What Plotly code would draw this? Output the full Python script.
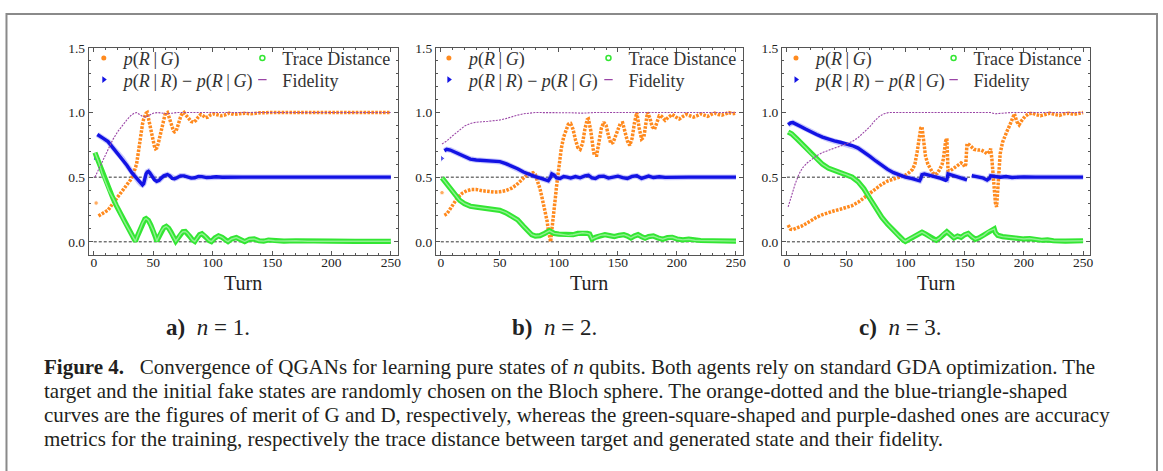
import plotly.graph_objects as go

# ---------------- data ----------------
TURN_TICKS = [0, 50, 100, 150, 200, 250]
VALUE_TICKS = [0.0, 0.5, 1.0, 1.5]
REF_LEVELS = [0.0, 0.5]

# panel a) n = 1
A_RG_T = [2, 3, 4, 5, 8, 12, 16, 20, 24, 28, 31, 33, 35, 36, 37, 38, 39, 40, 41, 42, 43, 44, 45, 46, 47, 48, 49, 50,
          51, 52, 53, 54, 55, 56, 57, 58, 59, 60, 61, 62, 63, 64, 65, 66, 67, 68, 69, 70, 71, 72, 73, 74, 75, 76, 78,
          80, 82, 84, 86, 88, 90, 92, 94, 96, 98, 101, 104, 107, 110, 114, 118, 122, 127, 132, 140, 150, 250]
A_RG_V = [0.30, None, 0.20, 0.205, 0.22, 0.245, 0.295, 0.345, 0.40, 0.44, 0.48, 0.515, 0.56, 0.60, 0.66, 0.73, 0.80,
          0.86, 0.91, 0.95, 0.98, 0.995, 1.0, 0.96, 0.91, 0.86, 0.81, 0.77, 0.74, 0.72, 0.725, 0.75, 0.79, 0.84, 0.88,
          0.925, 0.96, 0.985, 0.995, 1.0, 0.975, 0.94, 0.91, 0.88, 0.86, 0.85, 0.855, 0.875, 0.91, 0.94, 0.965, 0.985,
          0.995, 1.0, 0.975, 0.95, 0.93, 0.925, 0.94, 0.965, 0.985, 0.975, 0.96, 0.965, 0.98, 0.99, 0.985, 0.975, 0.98,
          0.995, 0.985, 0.99, 0.995, 0.99, 0.998, 1.0, 1.0]
A_RR_T = [1, 2, 3, 5, 8, 12, 16, 20, 24, 28, 32, 35, 38, 40, 41, 42, 43, 44, 45, 46, 47, 49, 51, 53, 55, 57, 59, 62,
          64, 66, 68, 70, 73, 76, 79, 82, 85, 88, 91, 95, 99, 103, 108, 115, 125, 250]
A_RR_V = [0.65, None, 0.83, 0.82, 0.80, 0.775, 0.73, 0.69, 0.645, 0.59, 0.535, 0.50, 0.465, 0.445, 0.44, 0.45, 0.49,
          0.525, 0.54, 0.545, 0.535, 0.505, 0.48, 0.468, 0.475, 0.495, 0.51, 0.52, 0.51, 0.49, 0.488, 0.495, 0.51,
          0.51, 0.50, 0.493, 0.495, 0.505, 0.504, 0.497, 0.499, 0.503, 0.499, 0.502, 0.50, 0.50]
A_TD_T = [1, 4, 7, 10, 13, 16, 19, 22, 25, 28, 31, 33, 35, 37, 39, 41, 43, 44, 46, 48, 50, 52, 53, 55, 57, 59, 61, 63,
          65, 67, 69, 71, 73, 75, 77, 79, 81, 83, 85, 87, 89, 91, 93, 95, 97, 99, 102, 105, 108, 111, 113, 116, 120,
          124, 127, 131, 135, 139, 143, 147, 152, 160, 170, 180, 200, 220, 250]
A_TD_V = [0.69, 0.62, 0.53, 0.46, 0.39, 0.34, 0.28, 0.23, 0.17, 0.12, 0.07, 0.035, 0.005, 0.05, 0.10, 0.145, 0.175,
          0.18, 0.165, 0.13, 0.09, 0.035, 0.005, 0.045, 0.085, 0.11, 0.12, 0.105, 0.075, 0.04, 0.005, 0.03, 0.06,
          0.078, 0.08, 0.065, 0.04, 0.015, 0.003, 0.03, 0.055, 0.062, 0.05, 0.03, 0.01, 0.002, 0.03, 0.046, 0.035,
          0.012, 0.002, 0.022, 0.033, 0.015, 0.002, 0.02, 0.022, 0.008, 0.005, 0.014, 0.008, 0.006, 0.008, 0.004,
          0.005, 0.003, 0.004]
A_FI_T = [1, 4, 8, 12, 16, 20, 24, 28, 31, 34, 36, 38, 41, 44, 47, 50, 54, 58, 62, 66, 70, 250]
A_FI_V = [0.50, 0.56, 0.64, 0.72, 0.79, 0.85, 0.90, 0.945, 0.975, 0.995, 1.0, 0.99, 0.97, 0.965, 0.98, 0.995, 1.0,
          0.993, 0.99, 0.995, 1.0, 1.0]

# panel b) n = 2
B_RG_T = [1, 2, 3, 5, 8, 11, 14, 18, 22, 26, 30, 35, 40, 45, 50, 55, 60, 64, 68, 72, 75, 78, 80, 82, 84, 86, 88, 90,
          91, 92, 93, 94, 95, 96, 97, 98, 100, 102, 104, 106, 108, 110, 112, 114, 116, 118, 120, 122, 124, 125, 127,
          129, 130, 132, 134, 136, 138, 140, 142, 144, 146, 148, 150, 152, 154, 156, 158, 160, 162, 164, 166, 168,
          170, 172, 174, 175, 177, 179, 181, 183, 185, 187, 190, 193, 196, 199, 202, 205, 208, 211, 214, 217, 220,
          223, 226, 229, 232, 235, 238, 241, 244, 247, 250]
B_RG_V = [0.38, None, 0.205, 0.215, 0.255, 0.30, 0.34, 0.375, 0.395, 0.405, 0.405, 0.395, 0.388, 0.385, 0.387,
          0.395, 0.415, 0.44, 0.475, 0.51, 0.525, 0.535, 0.52, 0.47, 0.41, 0.33, 0.25, 0.16, 0.094, 0.04, 0.0, 0.09,
          0.16, 0.25, 0.34, 0.43, 0.58, 0.72, 0.81, 0.87, 0.91, 0.915, 0.87, 0.79, 0.73, 0.715, 0.76, 0.87, 0.945,
          0.95, 0.86, 0.72, 0.67, 0.67, 0.76, 0.88, 0.925, 0.90, 0.82, 0.76, 0.77, 0.82, 0.88, 0.915, 0.92, 0.86,
          0.78, 0.745, 0.80, 0.92, 1.0, 0.88, 0.795, 0.81, 0.93, 1.0, 0.96, 0.89, 0.87, 0.93, 0.975, 0.97, 0.94,
          0.965, 0.985, 0.965, 0.95, 0.97, 0.985, 0.975, 0.965, 0.975, 0.99, 0.98, 0.97, 0.985, 0.995, 0.985, 0.98,
          0.99, 1.0, 0.99, 0.995]
B_RR_T = [1, 2, 3, 5, 8, 12, 16, 20, 25, 30, 35, 40, 45, 50, 55, 60, 65, 70, 75, 80, 85, 88, 91, 93, 94, 96, 98,
          101, 104, 107, 110, 114, 118, 122, 125, 128, 131, 134, 138, 142, 146, 150, 154, 158, 162, 166, 170, 173,
          176, 180, 185, 190, 200, 210, 250]
B_RR_V = [0.645, None, 0.705, 0.715, 0.71, 0.695, 0.675, 0.66, 0.64, 0.633, 0.63, 0.63, 0.627, 0.62, 0.605, 0.587,
          0.565, 0.54, 0.52, 0.505, 0.49, 0.48, 0.472, 0.50, 0.525, 0.515, 0.495, 0.49, 0.505, 0.50, 0.493, 0.505,
          0.495, 0.51, 0.515, 0.495, 0.49, 0.505, 0.508, 0.493, 0.50, 0.508, 0.497, 0.49, 0.506, 0.51, 0.49, 0.497,
          0.508, 0.497, 0.503, 0.498, 0.502, 0.50, 0.50]
B_TD_T = [1, 4, 8, 12, 16, 20, 25, 30, 35, 40, 45, 50, 55, 60, 65, 70, 74, 77, 80, 84, 88, 92, 94, 96, 100, 104,
          108, 112, 116, 120, 124, 126, 128, 131, 135, 139, 143, 147, 151, 155, 158, 161, 164, 167, 170, 173, 176,
          180, 184, 188, 192, 196, 200, 205, 210, 215, 220, 230, 240, 250]
B_TD_V = [0.495, 0.46, 0.41, 0.36, 0.32, 0.295, 0.275, 0.268, 0.262, 0.258, 0.252, 0.243, 0.225, 0.20, 0.17, 0.12,
          0.08, 0.055, 0.045, 0.048, 0.065, 0.085, 0.075, 0.065, 0.06, 0.055, 0.05, 0.055, 0.065, 0.07, 0.065, 0.06,
          0.022, 0.035, 0.05, 0.055, 0.048, 0.04, 0.05, 0.055, 0.045, 0.03, 0.045, 0.055, 0.04, 0.028, 0.04, 0.045,
          0.03, 0.02, 0.032, 0.035, 0.022, 0.015, 0.02, 0.012, 0.01, 0.008, 0.01, 0.005]
B_FI_T = [1, 5, 10, 15, 20, 25, 30, 40, 50, 55, 60, 65, 70, 75, 80, 110, 120, 130, 250]
B_FI_V = [0.757, 0.78, 0.82, 0.86, 0.895, 0.915, 0.925, 0.932, 0.942, 0.953, 0.968, 0.98, 0.99, 0.997, 1.0, 0.998,
          0.995, 1.0, 1.0]

# panel c) n = 3
C_RG_T = [1, 3, 5, 8, 12, 16, 20, 25, 30, 35, 40, 45, 50, 55, 60, 65, 70, 75, 80, 85, 90, 95, 100, 103, 106, 108,
          109, 110, 111, 112, 113, 114, 115, 116, 117, 119, 121, 123, 125, 127, 129, 131, 132, 133, 134, 135, 136,
          138, 141, 144, 147, 149, 150, 151, 152, 154, 156, 158, 161, 164, 167, 169, 171, 172, 173, 174, 175, 176,
          177, 178, 179, 180, 182, 184, 186, 188, 190, 192, 194, 196, 198, 201, 204, 207, 210, 214, 218, 222, 226,
          230, 234, 238, 242, 246, 250]
C_RG_V = [0.13, 0.098, 0.094, 0.103, 0.12, 0.14, 0.165, 0.19, 0.21, 0.228, 0.24, 0.252, 0.263, 0.28, 0.305, 0.34,
          0.375, 0.41, 0.445, 0.47, 0.485, 0.497, 0.515, 0.535, 0.56, 0.60, 0.64, 0.70, 0.76, 0.84, 0.88, 0.89, 0.80,
          0.72, 0.66, 0.60, 0.56, 0.535, 0.52, 0.53, 0.56, 0.60, 0.64, 0.73, 0.78, 0.80, 0.55, 0.55, 0.57, 0.59,
          0.61, 0.60, 0.58, 0.60, 0.76, 0.75, 0.73, 0.715, 0.71, 0.71, 0.695, 0.68, 0.70, 0.72, 0.64, 0.52, 0.38,
          0.30, 0.27, 0.45, 0.60, 0.68, 0.77, 0.82, 0.86, 0.90, 0.94, 0.99, 0.93, 0.905, 0.935, 0.97, 0.99, 0.995,
          0.985, 0.975, 0.985, 0.995, 0.985, 0.978, 0.99, 0.995, 0.985, 0.995, 1.0]
C_RR_T = [1, 3, 5, 8, 12, 16, 20, 25, 30, 35, 40, 45, 50, 55, 60, 65, 70, 75, 80, 85, 90, 95, 100, 105, 110, 112,
          113, 114, 116, 120, 125, 130, 134, 135, 136, 138, 142, 146, 150, 152, 153, 156, 160, 165, 169, 171, 172,
          175, 180, 185, 190, 200, 210, 250]
C_RR_V = [0.905, 0.92, 0.922, 0.91, 0.89, 0.87, 0.85, 0.83, 0.81, 0.793, 0.78, 0.77, 0.76, 0.745, 0.725, 0.695,
          0.66, 0.625, 0.59, 0.56, 0.535, 0.515, 0.50, 0.49, 0.477, 0.472, 0.49, 0.52, 0.525, 0.515, 0.505, 0.49,
          0.475, 0.48, 0.525, 0.52, 0.51, 0.495, 0.485, 0.48, None, 0.512, 0.505, 0.495, 0.478, 0.49, 0.51, 0.508,
          0.50, 0.505, 0.498, 0.502, 0.50, 0.50]
C_TD_T = [1, 4, 8, 12, 16, 20, 25, 30, 35, 40, 45, 50, 55, 60, 65, 70, 75, 80, 85, 90, 95, 98, 100, 103, 107, 111,
          114, 117, 120, 123, 126, 129, 132, 135, 138, 141, 144, 147, 150, 153, 156, 159, 162, 166, 170, 173, 175,
          176, 178, 182, 186, 190, 195, 200, 205, 210, 215, 220, 225, 235, 250]
C_TD_V = [0.85, 0.835, 0.80, 0.765, 0.725, 0.685, 0.645, 0.60, 0.57, 0.55, 0.535, 0.52, 0.50, 0.465, 0.41, 0.335,
          0.26, 0.19, 0.135, 0.085, 0.04, 0.015, 0.003, 0.02, 0.04, 0.06, 0.075, 0.06, 0.04, 0.02, 0.012, 0.03,
          0.06, 0.078, 0.055, 0.03, 0.045, 0.035, 0.055, 0.065, 0.04, 0.02, 0.03, 0.05, 0.08, 0.095, 0.10, 0.07,
          0.05, 0.04, 0.035, 0.032, 0.028, 0.022, 0.025, 0.018, 0.012, 0.015, 0.008, 0.006, 0.008]
C_FI_T = [1, 4, 7, 10, 13, 17, 21, 25, 30, 35, 40, 45, 50, 55, 60, 65, 70, 74, 78, 82, 86, 172, 176, 182, 190, 250]
C_FI_V = [0.27, 0.37, 0.45, 0.52, 0.57, 0.61, 0.64, 0.665, 0.69, 0.71, 0.725, 0.74, 0.755, 0.775, 0.805, 0.845,
          0.89, 0.935, 0.97, 0.99, 1.0, 1.0, 0.99, 0.995, 1.0, 1.0]

SERIES_NAMES = ["<i>p</i>(<i>R</i>\u2009|\u2009<i>G</i>)",
                "<i>p</i>(<i>R</i>\u2009|\u2009<i>R</i>) \u2212 <i>p</i>(<i>R</i>\u2009|\u2009<i>G</i>)",
                "Trace Distance", "Fidelity"]
PANEL_LABELS = ["<b>a)</b>\u2002<i>n</i> = 1.", "<b>b)</b>\u2002<i>n</i> = 2.", "<b>c)</b>\u2002<i>n</i> = 3."]
AXIS_TITLE = "Turn"
CAPTION_LINES = [
    "<b>Figure 4.</b>\u2002 Convergence of QGANs for learning pure states of <i>n</i> qubits. Both agents rely on standard GDA optimization. The",
    "target and the initial fake states are randomly chosen on the Bloch sphere. The orange-dotted and the blue-triangle-shaped",
    "curves are the figures of merit of G and D, respectively, whereas the green-square-shaped and purple-dashed ones are accuracy",
    "metrics for the training, respectively the trace distance between target and generated state and their fidelity.",
]

# ---------------- styling / layout ----------------
W, H = 1163, 471
SERIF = "Liberation Serif, Times New Roman, serif"
ORANGE, BLUE, GREEN, PURPLE = "#ff8a1e", "#1313e4", "#33e633", "#9a45a6"
FRAME = "#555555"


def px(x):
    return x / W


def py(y):
    return 1 - y / H


def isolated_sizes(vals, size):
    """marker size only for points that have no neighbour to connect to"""
    out = []
    for j, v in enumerate(vals):
        prev = vals[j - 1] if j > 0 else None
        nxt = vals[j + 1] if j + 1 < len(vals) else None
        out.append(size if (v is not None and prev is None and nxt is None) else 0)
    return out


panels = [
    dict(frame=(89, 399), data=[(A_RG_T, A_RG_V), (A_RR_T, A_RR_V), (A_TD_T, A_TD_V), (A_FI_T, A_FI_V)],
         leg=(84, 243), label_x=209),
    dict(frame=(437, 745), data=[(B_RG_T, B_RG_V), (B_RR_T, B_RR_V), (B_TD_T, B_TD_V), (B_FI_T, B_FI_V)],
         leg=(430, 590), label_x=556),
    dict(frame=(784, 1093), data=[(C_RG_T, C_RG_V), (C_RR_T, C_RR_V), (C_TD_T, C_TD_V), (C_FI_T, C_FI_V)],
         leg=(778, 936), label_x=903),
]

# each series may be drawn as stacked strokes (halo / core) to mimic the dense marker bands
series_strokes = [
    [dict(line=dict(color=ORANGE, width=3.5, dash="2.6px,1.3px"), msym="circle", msize=4.5, mcol=ORANGE)],
    [dict(line=dict(color="rgba(100,100,245,0.35)", width=5.5), msym="triangle-right", msize=0, mcol=BLUE),
     dict(line=dict(color=BLUE, width=3.4), msym="triangle-right", msize=6, mcol=BLUE)],
    [dict(line=dict(color=GREEN, width=5.2), msym="square-open", msize=5, mcol=GREEN),
     dict(line=dict(color="#90f090", width=1.4), msym="square-open", msize=0, mcol=GREEN)],
    [dict(line=dict(color=PURPLE, width=1.1, dash="2px,1.2px"), msym="circle", msize=0, mcol=PURPLE)],
]
legend_markers = [
    dict(symbol="circle", size=5, color=ORANGE),
    dict(symbol="triangle-right", size=6, color=BLUE),
    dict(symbol="circle-open", size=5, color=GREEN, line=dict(width=1.5, color=GREEN)),
    dict(symbol="line-ew", size=6, color=PURPLE, line=dict(width=1.2, color=PURPLE)),
]
LEG_ROW_Y = [52, 74]

fig = go.Figure()
layout = dict(
    width=W, height=H, margin=dict(l=0, r=0, t=0, b=0), autosize=False,
    paper_bgcolor="white", plot_bgcolor="white", showlegend=True,
    font=dict(family=SERIF, color="#222222"),
)
shapes, annotations = [], []

Y_DOMAIN = [py(252), py(41.5)]

for i, p in enumerate(panels):
    sfx = "" if i == 0 else str(i + 1)
    xname, yname = "x" + sfx, "y" + sfx
    for k, (t, v) in enumerate(p["data"]):
        for st in series_strokes[k]:
            fig.add_trace(go.Scatter(
                x=t, y=v, mode="lines+markers", line=st["line"], connectgaps=False,
                marker=dict(symbol=st["msym"], size=isolated_sizes(v, st["msize"]), color=st["mcol"]),
                showlegend=False, hoverinfo="skip", xaxis=xname, yaxis=yname))
    # legend: one single-entry legend per row/column
    for k in range(4):
        idx = 4 * i + k
        legkey = "legend" + ("" if idx == 0 else str(idx + 1))
        fig.add_trace(go.Scatter(x=[None], y=[None], mode="markers", marker=legend_markers[k],
                                 name=SERIES_NAMES[k], legend=legkey, xaxis=xname, yaxis=yname))
        layout[legkey] = dict(x=px(p["leg"][k // 2]), y=py(LEG_ROW_Y[k % 2]), xanchor="left", yanchor="middle",
                              bgcolor="rgba(0,0,0,0)", borderwidth=0, tracegroupgap=0,
                              font=dict(family=SERIF, size=18, color="#333333"), itemclick=False,
                              itemdoubleclick=False)
    layout["xaxis" + sfx] = dict(
        domain=[px(p["frame"][0]), px(p["frame"][1])], anchor=yname, range=[-4.2, 256],
        tickvals=TURN_TICKS, ticks="inside", ticklen=4, tickwidth=1, tickcolor=FRAME,
        minor=dict(dtick=10, ticks="inside", ticklen=2.2, tickwidth=0.8, tickcolor=FRAME),
        showline=True, linecolor=FRAME, linewidth=1, mirror="allticks", showgrid=False, zeroline=False,
        tickfont=dict(family=SERIF, size=13.5, color="#222222"), ticklabelstandoff=-5,
    )
    layout["yaxis" + sfx] = dict(
        domain=Y_DOMAIN, anchor=xname, range=[-0.104, 1.5],
        tickvals=VALUE_TICKS, tickformat=".1f", ticks="inside", ticklen=4, tickwidth=1, tickcolor=FRAME,
        minor=dict(dtick=0.1, ticks="inside", ticklen=2.2, tickwidth=0.8, tickcolor=FRAME),
        showline=True, linecolor=FRAME, linewidth=1, mirror="allticks", showgrid=False, zeroline=False,
        tickfont=dict(family=SERIF, size=13.5, color="#222222"),
    )
    for lev in REF_LEVELS:
        shapes.append(dict(type="line", xref=xname, yref=yname, x0=0, x1=250, y0=lev, y1=lev, layer="below",
                           line=dict(color="#333333", width=1, dash="3px,2px")))
    # axis title "Turn" centred under the frame
    annotations.append(dict(text=AXIS_TITLE, x=0.5, y=py(280), xref=xname + " domain", yref="paper",
                            xanchor="center", yanchor="middle", showarrow=False,
                            font=dict(family=SERIF, size=20, color="#222222")))
    annotations.append(dict(text=PANEL_LABELS[i], x=px(p["label_x"]), y=py(325), xref="paper", yref="paper",
                            xanchor="center", yanchor="middle", showarrow=False,
                            font=dict(family=SERIF, size=23, color="#222222")))

CAPTION_Y = [365, 389.5, 414, 438.5]
for line, yy in zip(CAPTION_LINES, CAPTION_Y):
    annotations.append(dict(text=line, x=px(42), y=py(yy), xref="paper", yref="paper", xanchor="left",
                            yanchor="middle", showarrow=False, font=dict(family=SERIF, size=21, color="#231f20")))

shapes.append(dict(type="rect", xref="paper", yref="paper", x0=px(6.5), x1=px(1160), y0=py(490), y1=py(7),
                   line=dict(color="#8a8a8a", width=2), fillcolor="rgba(0,0,0,0)", layer="above"))

layout["shapes"] = shapes
layout["annotations"] = annotations
fig.update_layout(**layout)
fig.write_html("out.html")
